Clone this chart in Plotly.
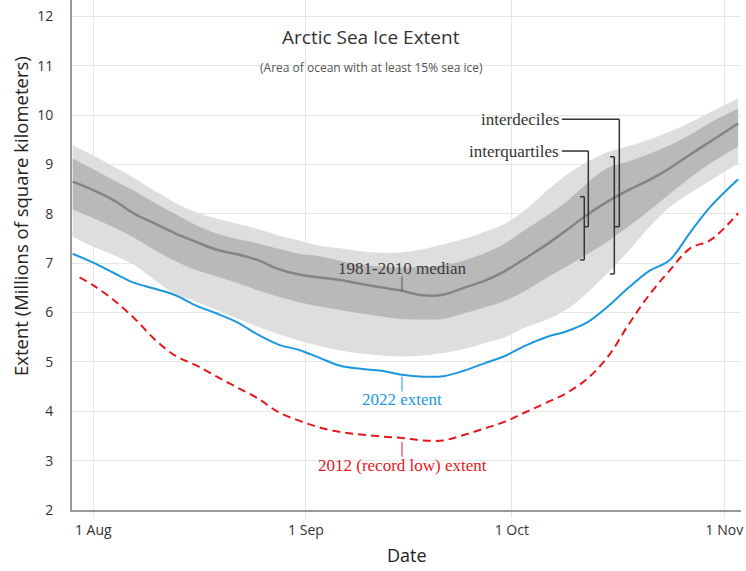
import plotly.graph_objects as go
import pandas as pd

# ---------------- data ----------------
dates = ["2022-07-29", "2022-08-01", "2022-08-04", "2022-08-07", "2022-08-10", "2022-08-13",
         "2022-08-16", "2022-08-19", "2022-08-22", "2022-08-25", "2022-08-28", "2022-08-31",
         "2022-09-03", "2022-09-06", "2022-09-09", "2022-09-12", "2022-09-15", "2022-09-18",
         "2022-09-21", "2022-09-24", "2022-09-27", "2022-09-30", "2022-10-03", "2022-10-06",
         "2022-10-09", "2022-10-12", "2022-10-15", "2022-10-18", "2022-10-21", "2022-10-24",
         "2022-10-27", "2022-10-30", "2022-11-03"]

dates_2012 = ["2022-07-30"] + dates[1:]

median_1981_2010 = [8.65, 8.48, 8.27, 8.00, 7.80, 7.60, 7.43, 7.27, 7.18, 7.06, 6.88, 6.77,
                    6.71, 6.66, 6.58, 6.51, 6.44, 6.35, 6.36, 6.50, 6.64, 6.84, 7.10, 7.37,
                    7.67, 7.98, 8.25, 8.48, 8.68, 8.92, 9.20, 9.47, 9.83]

decile_90 = [9.39, 9.18, 8.95, 8.72, 8.46, 8.22, 8.03, 7.90, 7.80, 7.69, 7.56, 7.46,
             7.35, 7.30, 7.24, 7.21, 7.22, 7.28, 7.38, 7.49, 7.63, 7.80, 8.08, 8.45,
             8.79, 9.05, 9.25, 9.37, 9.50, 9.66, 9.85, 10.06, 10.34]

decile_10 = [7.54, 7.33, 7.16, 6.96, 6.65, 6.38, 6.22, 6.05, 5.88, 5.71, 5.56, 5.43,
             5.32, 5.23, 5.17, 5.13, 5.11, 5.13, 5.18, 5.26, 5.38, 5.50, 5.70, 5.85,
             6.06, 6.40, 6.80, 7.24, 7.72, 8.13, 8.42, 8.68, 9.02]

quartile_75 = [9.12, 8.90, 8.68, 8.46, 8.22, 7.99, 7.77, 7.60, 7.49, 7.40, 7.29, 7.19,
               7.14, 7.05, 6.97, 6.93, 6.91, 6.92, 6.96, 7.05, 7.20, 7.40, 7.68, 7.95,
               8.25, 8.62, 8.93, 9.06, 9.21, 9.39, 9.60, 9.85, 10.13]

quartile_25 = [8.08, 7.91, 7.72, 7.51, 7.26, 7.04, 6.86, 6.73, 6.60, 6.45, 6.32, 6.21,
               6.12, 6.05, 5.98, 5.92, 5.87, 5.86, 5.87, 5.98, 6.10, 6.24, 6.44, 6.70,
               6.93, 7.18, 7.44, 7.74, 8.06, 8.40, 8.73, 9.03, 9.36]

extent_2022 = [7.19, 7.01, 6.80, 6.60, 6.48, 6.35, 6.14, 5.98, 5.80, 5.55, 5.35, 5.24,
               5.08, 4.92, 4.86, 4.82, 4.74, 4.70, 4.71, 4.82, 4.97, 5.12, 5.33, 5.50,
               5.62, 5.80, 6.12, 6.50, 6.84, 7.06, 7.62, 8.15, 8.70]

extent_2012 = [6.71, 6.55, 6.25, 5.88, 5.45, 5.12, 4.93, 4.70, 4.48, 4.26, 3.98, 3.81,
               3.67, 3.58, 3.53, 3.49, 3.46, 3.41, 3.41, 3.52, 3.65, 3.79, 3.98, 4.17,
               4.37, 4.66, 5.10, 5.75, 6.35, 6.85, 7.30, 7.47, 8.01]

y_ticks = [2, 3, 4, 5, 6, 7, 8, 9, 10, 11, 12]

# ---------------- styling ----------------
LIGHT_BAND = "#dedede"
DARK_BAND = "#b9b9b9"
MEDIAN_COL = "#848484"
BLUE = "#1b98dd"
RED = "#e8161c"
GRID = "#e6e6e6"
SERIF = "Liberation Serif, DejaVu Serif, serif"
SANS = "Open Sans, Noto Sans, sans-serif"

BASE = pd.Timestamp("2022-08-01")


def at(day):
    """date position given as days after 1 Aug (used for annotations only)"""
    return (BASE + pd.Timedelta(days=day)).strftime("%Y-%m-%d %H:%M")


fig = go.Figure()

# interdecile band
fig.add_trace(go.Scatter(x=dates, y=decile_10, mode="lines", line=dict(width=0, shape="spline"),
                         hoverinfo="skip", showlegend=False))
fig.add_trace(go.Scatter(x=dates, y=decile_90, mode="lines", line=dict(width=0, shape="spline"),
                         fill="tonexty", fillcolor=LIGHT_BAND, hoverinfo="skip", showlegend=False))
# interquartile band
fig.add_trace(go.Scatter(x=dates, y=quartile_25, mode="lines", line=dict(width=0, shape="spline"),
                         hoverinfo="skip", showlegend=False))
fig.add_trace(go.Scatter(x=dates, y=quartile_75, mode="lines", line=dict(width=0, shape="spline"),
                         fill="tonexty", fillcolor=DARK_BAND, hoverinfo="skip", showlegend=False))
# median
fig.add_trace(go.Scatter(x=dates, y=median_1981_2010, mode="lines",
                         line=dict(color=MEDIAN_COL, width=2.5, shape="spline"), showlegend=False))
# 2022
fig.add_trace(go.Scatter(x=dates, y=extent_2022, mode="lines",
                         line=dict(color=BLUE, width=2, shape="spline"), showlegend=False))
# 2012
fig.add_trace(go.Scatter(x=dates_2012, y=extent_2012, mode="lines",
                         line=dict(color=RED, width=2, dash="8px,5px", shape="spline"), showlegend=False))

shapes = []


def seg(x0, y0, x1, y1, color="#333333", width=1.5):
    shapes.append(dict(type="line", xref="x", yref="y", x0=at(x0), y0=y0, x1=at(x1), y1=y1,
                       line=dict(color=color, width=width)))


# leader lines
seg(45, 6.73, 45, 6.44, color="#555555", width=1)
seg(45, 4.70, 45, 4.40, color=BLUE, width=1)
seg(45, 3.38, 45, 3.08, color=RED, width=1)

# interdeciles callout + bracket
seg(68.3, 9.913, 76.68, 9.913)
seg(76.68, 9.913, 76.68, 7.739)
seg(76.68, 7.739, 76.05, 7.739)
seg(75.95, 9.156, 75.95, 6.781)
seg(75.95, 9.156, 75.32, 9.156)
seg(75.95, 6.781, 75.32, 6.781)
# interquartiles callout + bracket
seg(68.3, 9.271, 72.16, 9.271)
seg(72.16, 9.271, 72.16, 7.739)
seg(72.16, 7.739, 71.68, 7.739)
seg(71.57, 8.346, 71.57, 7.065)
seg(71.57, 8.346, 70.95, 8.346)
seg(71.57, 7.065, 70.95, 7.065)

annotations = [
    dict(x=at(45), y=6.90, xref="x", yref="y", text="1981-2010 median", showarrow=False,
         font=dict(family=SERIF, size=17, color="#3a3a3a"), xanchor="center", yanchor="middle"),
    dict(x=at(45), y=4.23, xref="x", yref="y", text="2022 extent", showarrow=False,
         font=dict(family=SERIF, size=17, color=BLUE), xanchor="center", yanchor="middle"),
    dict(x=at(45), y=2.91, xref="x", yref="y", text="2012 (record low) extent", showarrow=False,
         font=dict(family=SERIF, size=17, color=RED), xanchor="center", yanchor="middle"),
    dict(x=at(68.3), y=9.913, xref="x", yref="y", text="interdeciles", showarrow=False,
         font=dict(family=SERIF, size=17, color="#333333"), xanchor="right", yanchor="middle",
         xshift=-1),
    dict(x=at(68.3), y=9.271, xref="x", yref="y", text="interquartiles", showarrow=False,
         font=dict(family=SERIF, size=17, color="#333333"), xanchor="right", yanchor="middle",
         xshift=-1),
    # title and subtitle
    dict(x=(371 - 72) / 669, y=(510 - 37) / 510, xref="paper", yref="paper",
         text="Arctic Sea Ice Extent",
         showarrow=False, font=dict(family=SANS, size=19, color="#333333"),
         xanchor="center", yanchor="middle"),
    dict(x=(371 - 72) / 669, y=(510 - 68) / 510, xref="paper", yref="paper",
         text="(Area of ocean with at least 15% sea ice)",
         showarrow=False, font=dict(family=SANS, size=12, color="#555555"),
         xanchor="center", yanchor="middle"),
    # axis titles
    dict(x=(20 - 72) / 669, y=(510 - 216) / 510, xref="paper", yref="paper",
         text="Extent (Millions of square kilometers)", textangle=-90, showarrow=False,
         font=dict(family=SANS, size=18.5, color="#222222"), xanchor="center", yanchor="middle"),
    dict(x=0.5, y=(510 - 555) / 510, xref="paper", yref="paper", text="Date", showarrow=False,
         font=dict(family=SANS, size=18, color="#222222"), xanchor="center", yanchor="middle"),
]

fig.update_layout(
    width=746, height=571,
    margin=dict(l=72, r=5, t=0, b=61),
    paper_bgcolor="white", plot_bgcolor="white",
    shapes=shapes, annotations=annotations,
    showlegend=False,
    xaxis=dict(
        type="date",
        range=["2022-07-28 21:30", "2022-11-03 10:00"],
        dtick="M1", tick0="2022-08-01", tickformat="%-d %b",
        showgrid=True, gridcolor=GRID, gridwidth=1,
        showline=True, linecolor="#999999", linewidth=2,
        ticks="outside", ticklen=6, tickcolor=GRID,
        tickfont=dict(family=SANS, size=14, color="#333333"),
        zeroline=False, fixedrange=True,
    ),
    yaxis=dict(
        range=[2, 12.33],
        tickvals=y_ticks,
        showgrid=True, gridcolor=GRID, gridwidth=1,
        showline=True, linecolor="#999999", linewidth=2,
        ticks="", ticklabelstandoff=14,
        tickfont=dict(family=SANS, size=14, color="#333333"),
        zeroline=False, fixedrange=True,
    ),
)

fig.write_html("out.html")
